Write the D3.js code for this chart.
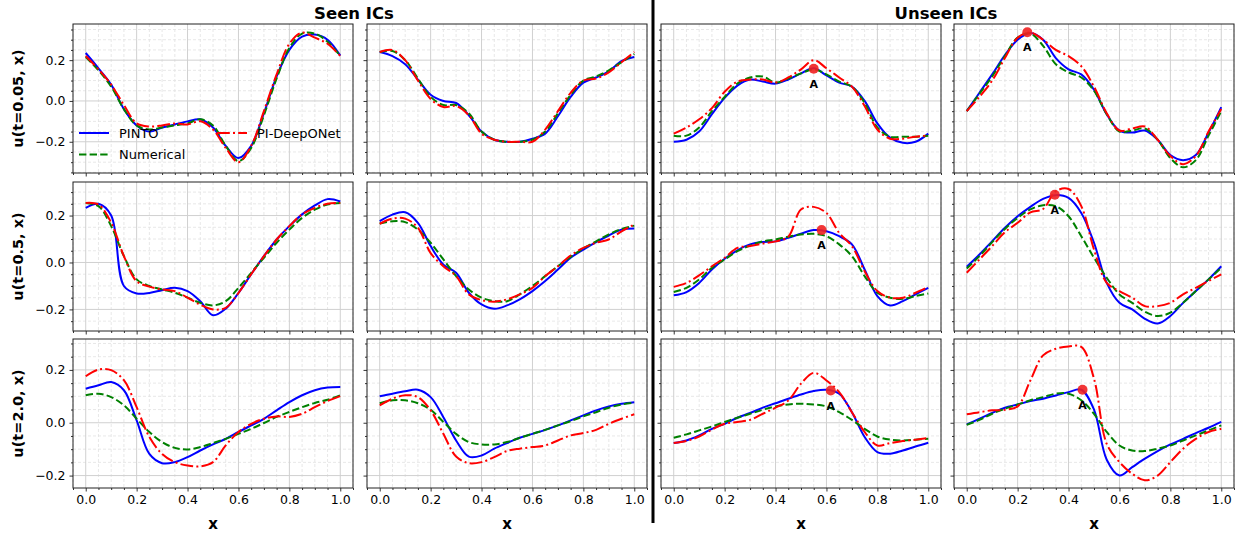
<!DOCTYPE html>
<html>
<head>
<meta charset="utf-8">
<script src="https://cdn.jsdelivr.net/npm/d3@7"></script>
<style>
  body { margin: 0; background: #fff; }
  text { font-family: "DejaVu Sans", sans-serif; }
</style>
</head>
<body>
<div id="chart"></div>
<script>
// sample points along x, shared by every curve
var xs = [0, 0.05, 0.1, 0.15, 0.2, 0.25, 0.3, 0.35, 0.4, 0.45, 0.5,
          0.55, 0.6, 0.65, 0.7, 0.75, 0.8, 0.85, 0.9, 0.95, 1.0];

var groupTitles = ['Seen ICs', 'Unseen ICs'];
var rowLabels = ['u(t=0.05, x)', 'u(t=0.5, x)', 'u(t=2.0, x)'];
var seriesNames = ['PINTO', 'Numerical', 'PI-DeepONet'];
var xTicks = [0, 0.2, 0.4, 0.6, 0.8, 1.0];
var yTicks = [-0.2, 0, 0.2];
// y range of each row (shared across the row)
var yRanges = [[-0.353, 0.377], [-0.292, 0.343], [-0.247, 0.317]];

// ---- t = 0.05 ----  (one inner array per column)
var pinto005 = [
  [0.235,0.16,0.08,-0.04,-0.12,-0.15,-0.13,-0.115,-0.10,-0.09,-0.13,-0.22,-0.28,-0.22,-0.06,0.12,0.25,0.315,0.325,0.30,0.222],
  [0.24,0.22,0.18,0.105,0.03,0.0,-0.01,-0.07,-0.15,-0.19,-0.2,-0.2,-0.185,-0.16,-0.075,0.02,0.09,0.115,0.145,0.195,0.215],
  [-0.2,-0.19,-0.15,-0.065,0.015,0.075,0.105,0.095,0.085,0.105,0.135,0.16,0.125,0.09,0.07,0.0,-0.11,-0.18,-0.205,-0.2,-0.16],
  [-0.05,0.04,0.13,0.225,0.30,0.333,0.30,0.21,0.155,0.13,0.055,-0.065,-0.145,-0.155,-0.145,-0.19,-0.265,-0.29,-0.265,-0.155,-0.03]
];
var numer005 = [
  [0.215,0.15,0.07,-0.04,-0.12,-0.14,-0.13,-0.12,-0.11,-0.09,-0.12,-0.22,-0.295,-0.23,-0.07,0.11,0.26,0.33,0.33,0.29,0.22],
  [0.24,0.245,0.2,0.11,0.02,-0.02,-0.02,-0.06,-0.15,-0.19,-0.2,-0.2,-0.19,-0.15,-0.06,0.03,0.1,0.12,0.15,0.19,0.23],
  [-0.17,-0.17,-0.13,-0.05,0.02,0.085,0.115,0.12,0.09,0.11,0.135,0.155,0.13,0.095,0.07,-0.01,-0.13,-0.175,-0.175,-0.175,-0.17],
  [-0.05,0.035,0.12,0.22,0.31,0.33,0.27,0.18,0.14,0.115,0.05,-0.065,-0.15,-0.145,-0.135,-0.19,-0.28,-0.325,-0.29,-0.17,-0.05]
];
var deep005 = [
  [0.22,0.155,0.08,-0.02,-0.11,-0.125,-0.12,-0.11,-0.115,-0.10,-0.14,-0.23,-0.30,-0.22,-0.05,0.13,0.28,0.335,0.31,0.28,0.22],
  [0.24,0.25,0.2,0.1,0.01,-0.03,-0.025,-0.07,-0.16,-0.19,-0.2,-0.2,-0.2,-0.14,-0.05,0.04,0.1,0.11,0.14,0.19,0.24],
  [-0.16,-0.13,-0.09,-0.035,0.045,0.095,0.105,0.105,0.09,0.115,0.155,0.2,0.16,0.115,0.07,-0.025,-0.14,-0.185,-0.185,-0.175,-0.17],
  [-0.05,0.02,0.10,0.21,0.31,0.335,0.30,0.25,0.22,0.17,0.07,-0.06,-0.145,-0.135,-0.125,-0.19,-0.27,-0.31,-0.27,-0.15,-0.04]
];

// ---- t = 0.5 ----
var pinto05 = [
  [0.233,0.25,0.2,-0.1,-0.132,-0.13,-0.118,-0.108,-0.122,-0.165,-0.225,-0.197,-0.13,-0.05,0.027,0.098,0.155,0.205,0.243,0.27,0.26],
  [0.176,0.204,0.214,0.169,0.07,-0.009,-0.044,-0.129,-0.179,-0.197,-0.183,-0.157,-0.122,-0.079,-0.03,0.02,0.055,0.087,0.115,0.14,0.145],
  [-0.14,-0.126,-0.087,-0.03,0.016,0.052,0.077,0.087,0.09,0.105,0.123,0.138,0.133,0.112,0.077,-0.03,-0.143,-0.183,-0.165,-0.136,-0.108],
  [-0.018,0.034,0.091,0.148,0.197,0.237,0.271,0.287,0.275,0.211,0.084,-0.087,-0.172,-0.2,-0.24,-0.26,-0.228,-0.172,-0.122,-0.072,-0.016]
];
var numer05 = [
  [0.254,0.24,0.155,0.027,-0.072,-0.1,-0.115,-0.129,-0.15,-0.172,-0.183,-0.165,-0.108,-0.044,0.02,0.084,0.14,0.19,0.225,0.247,0.254],
  [0.166,0.176,0.172,0.14,0.084,0.013,-0.058,-0.115,-0.15,-0.165,-0.165,-0.136,-0.1,-0.058,-0.016,0.024,0.06,0.09,0.12,0.143,0.157],
  [-0.126,-0.108,-0.072,-0.023,0.013,0.048,0.072,0.09,0.098,0.11,0.119,0.122,0.112,0.077,0.027,-0.058,-0.129,-0.15,-0.155,-0.143,-0.132],
  [-0.026,0.027,0.087,0.143,0.19,0.226,0.244,0.24,0.197,0.112,0.02,-0.065,-0.136,-0.172,-0.21,-0.228,-0.214,-0.172,-0.122,-0.072,-0.023]
];
var deep05 = [
  [0.254,0.247,0.17,0.027,-0.08,-0.103,-0.115,-0.122,-0.15,-0.18,-0.2,-0.193,-0.13,-0.05,0.027,0.098,0.155,0.205,0.233,0.25,0.254],
  [0.165,0.187,0.187,0.148,0.04,-0.016,-0.058,-0.136,-0.16,-0.167,-0.157,-0.136,-0.108,-0.058,-0.016,0.03,0.062,0.084,0.098,0.133,0.162],
  [-0.104,-0.087,-0.055,-0.016,0.02,0.062,0.07,0.081,0.09,0.11,0.226,0.237,0.211,0.126,0.07,-0.037,-0.122,-0.15,-0.15,-0.129,-0.104],
  [-0.044,0.013,0.07,0.129,0.169,0.214,0.228,0.304,0.313,0.24,0.055,-0.087,-0.122,-0.15,-0.186,-0.186,-0.172,-0.136,-0.108,-0.079,-0.051]
];

// ---- t = 2.0 ----
var pinto20 = [
  [0.129,0.142,0.154,0.123,0.009,-0.118,-0.153,-0.149,-0.13,-0.105,-0.082,-0.061,-0.035,-0.01,0.015,0.047,0.078,0.104,0.123,0.133,0.135],
  [0.1,0.11,0.119,0.125,0.097,0.021,-0.067,-0.128,-0.124,-0.098,-0.077,-0.057,-0.042,-0.027,-0.01,0.009,0.028,0.047,0.062,0.072,0.078],
  [-0.077,-0.067,-0.048,-0.023,-0.004,0.019,0.037,0.057,0.074,0.091,0.107,0.12,0.125,0.11,0.04,-0.054,-0.111,-0.117,-0.105,-0.09,-0.076],
  [-0.006,0.015,0.037,0.057,0.069,0.082,0.091,0.103,0.116,0.125,0.05,-0.14,-0.2,-0.168,-0.136,-0.107,-0.082,-0.061,-0.039,-0.019,0.003]
];
var numer20 = [
  [0.104,0.11,0.097,0.066,0.015,-0.035,-0.073,-0.095,-0.101,-0.092,-0.077,-0.061,-0.042,-0.023,-0.001,0.022,0.041,0.059,0.075,0.087,0.104],
  [0.074,0.085,0.085,0.074,0.049,0.003,-0.042,-0.073,-0.082,-0.082,-0.073,-0.057,-0.042,-0.027,-0.01,0.006,0.024,0.04,0.057,0.069,0.076],
  [-0.057,-0.044,-0.029,-0.014,0.003,0.019,0.034,0.049,0.062,0.069,0.072,0.069,0.062,0.04,0.011,-0.023,-0.052,-0.064,-0.067,-0.064,-0.061],
  [-0.008,0.011,0.034,0.053,0.069,0.085,0.097,0.11,0.11,0.085,0.034,-0.035,-0.086,-0.105,-0.107,-0.098,-0.086,-0.067,-0.048,-0.029,-0.01]
];
var deep20 = [
  [0.176,0.201,0.199,0.161,0.059,-0.054,-0.118,-0.149,-0.162,-0.165,-0.149,-0.086,-0.035,-0.004,0.015,0.024,0.022,0.034,0.059,0.082,0.101],
  [0.066,0.091,0.104,0.097,0.047,-0.042,-0.128,-0.153,-0.149,-0.13,-0.107,-0.098,-0.092,-0.086,-0.067,-0.048,-0.039,-0.027,-0.004,0.015,0.032],
  [-0.077,-0.069,-0.052,-0.026,-0.004,0.003,0.011,0.034,0.057,0.084,0.148,0.189,0.16,0.116,0.04,-0.035,-0.086,-0.077,-0.069,-0.064,-0.058],
  [0.032,0.04,0.047,0.049,0.062,0.16,0.255,0.28,0.289,0.287,0.167,-0.08,-0.149,-0.193,-0.218,-0.2,-0.149,-0.098,-0.061,-0.035,-0.023]
];

// point "A" on the PINTO curve in the two unseen columns, per row
var pointsA = [
  [[0.55, 0.158], [0.238, 0.337]],
  [[0.581, 0.138], [0.346, 0.289]],
  [[0.617, 0.122], [0.455, 0.125]]
];

var rows = [
  [pinto005, numer005, deep005],
  [pinto05, numer05, deep05],
  [pinto20, numer20, deep20]
];

var colors = ['#0000ff', '#008000', '#ff0000'];
var dashes = [null, '7.4,3.2', '12.8,3.2,2,3.2'];

var width = 1244, height = 536;
var pw = 280, ph = 149;
var lefts = [73, 367, 661, 954];
var tops = [24, 182, 339];

var svg = d3.select('#chart').append('svg')
    .attr('width', width)
    .attr('height', height);

var line = d3.line().curve(d3.curveCatmullRom.alpha(0.5));

rows.forEach(function(rowSeries, r) {
  var y = d3.scaleLinear().domain(yRanges[r]).range([ph, 0]);
  for (var c = 0; c < 4; c++) {
    var x = d3.scaleLinear().domain([-0.05, 1.05]).range([0, pw]);
    var g = svg.append('g').attr('transform', 'translate(' + lefts[c] + ',' + tops[r] + ')');

    // minor grid (every 0.05), dashed
    var xMinor = d3.range(-1, 22).map(function(i) { return +(i * 0.05).toFixed(2); })
        .filter(function(v) { return v >= -0.05 && v <= 1.05 && xTicks.indexOf(v) < 0; });
    var yMinor = d3.range(-8, 9).map(function(i) { return +(i * 0.05).toFixed(2); })
        .filter(function(v) { return v > yRanges[r][0] && v < yRanges[r][1] && yTicks.indexOf(v) < 0; });

    g.selectAll('.gxm').data(xMinor).enter().append('line')
      .attr('x1', d => x(d)).attr('x2', d => x(d)).attr('y1', 0).attr('y2', ph)
      .attr('stroke', '#e2e2e2').attr('stroke-width', 0.8).attr('stroke-dasharray', '3,2');
    g.selectAll('.gym').data(yMinor).enter().append('line')
      .attr('x1', 0).attr('x2', pw).attr('y1', d => y(d)).attr('y2', d => y(d))
      .attr('stroke', '#e2e2e2').attr('stroke-width', 0.8).attr('stroke-dasharray', '3,2');
    // major grid
    g.selectAll('.gx').data(xTicks).enter().append('line')
      .attr('x1', d => x(d)).attr('x2', d => x(d)).attr('y1', 0).attr('y2', ph)
      .attr('stroke', '#d0d0d0').attr('stroke-width', 1);
    g.selectAll('.gy').data(yTicks).enter().append('line')
      .attr('x1', 0).attr('x2', pw).attr('y1', d => y(d)).attr('y2', d => y(d))
      .attr('stroke', '#d0d0d0').attr('stroke-width', 1);

    // axes
    var fmt = d3.format('.1f');
    g.append('g').attr('transform', 'translate(0,' + ph + ')')
      .call(d3.axisBottom(x).tickValues(xTicks).tickSize(3.5).tickPadding(4)
        .tickFormat(r === 2 ? fmt : ''));
    g.append('g').attr('transform', 'translate(0,' + ph + ')')
      .call(d3.axisBottom(x).tickValues(xMinor).tickSize(2).tickFormat(''));
    g.append('g')
      .call(d3.axisLeft(y).tickValues(yTicks).tickSize(3.5).tickPadding(4)
        .tickFormat(c === 0 ? fmt : ''));
    g.append('g')
      .call(d3.axisLeft(y).tickValues(yMinor).tickSize(2).tickFormat(''));
    g.selectAll('.domain').remove();
    g.selectAll('.tick text').attr('font-size', 12.5).attr('fill', '#000')
      .style('font-family', '"DejaVu Sans", sans-serif');
    g.selectAll('.tick line').attr('stroke', '#000').attr('stroke-width', 0.8);

    // curves: PINTO, Numerical, PI-DeepONet
    rowSeries.forEach(function(series, s) {
      var pts = xs.map(function(xv, i) { return [x(xv), y(series[c][i])]; });
      g.append('path')
        .attr('d', line(pts))
        .attr('fill', 'none')
        .attr('stroke', colors[s])
        .attr('stroke-width', 2)
        .attr('stroke-dasharray', dashes[s]);
    });

    // marker A on the unseen columns
    if (c >= 2) {
      var p = pointsA[r][c - 2];
      g.append('circle').attr('cx', x(p[0])).attr('cy', y(p[1])).attr('r', 5)
        .attr('fill', '#f02020').attr('opacity', 0.9);
      g.append('text').attr('x', x(p[0])).attr('y', y(p[1]) + 19)
        .attr('text-anchor', 'middle').attr('font-size', 11).attr('font-weight', 'bold')
        .text('A');
    }

    // frame
    g.append('rect').attr('width', pw).attr('height', ph)
      .attr('fill', 'none').attr('stroke', '#222').attr('stroke-width', 1);

    if (r === 2) {
      g.append('text').attr('x', pw / 2).attr('y', ph + 41)
        .attr('text-anchor', 'middle').attr('font-size', 15).attr('font-weight', 'bold')
        .text('x');
    }
    if (c === 0) {
      g.append('text')
        .attr('transform', 'translate(' + (-50) + ',' + (ph / 2) + ') rotate(-90)')
        .attr('text-anchor', 'middle').attr('font-size', 14.5).attr('font-weight', 'bold')
        .text(rowLabels[r]);
    }

    // legend, top-left panel
    if (r === 0 && c === 0) {
      var legPos = [[6, 109], [6, 130.5], [144, 109]];
      seriesNames.forEach(function(name, s) {
        var lg = g.append('g').attr('transform', 'translate(' + legPos[s][0] + ',' + legPos[s][1] + ')');
        lg.append('line').attr('x1', 0).attr('x2', 30).attr('y1', 0).attr('y2', 0)
          .attr('stroke', colors[s]).attr('stroke-width', 2).attr('stroke-dasharray', dashes[s]);
        lg.append('text').attr('x', 40).attr('y', 4.5).attr('font-size', 13).text(name);
      });
    }
  }
});

// group titles
svg.append('text').attr('x', 354).attr('y', 19)
  .attr('text-anchor', 'middle').attr('font-size', 16.5).attr('font-weight', 'bold').text(groupTitles[0]);
svg.append('text').attr('x', 946).attr('y', 19)
  .attr('text-anchor', 'middle').attr('font-size', 16.5).attr('font-weight', 'bold').text(groupTitles[1]);

// separator between seen and unseen
svg.append('line').attr('x1', 653).attr('x2', 653).attr('y1', 0).attr('y2', 523)
  .attr('stroke', '#000').attr('stroke-width', 3);
</script>
</body>
</html>
